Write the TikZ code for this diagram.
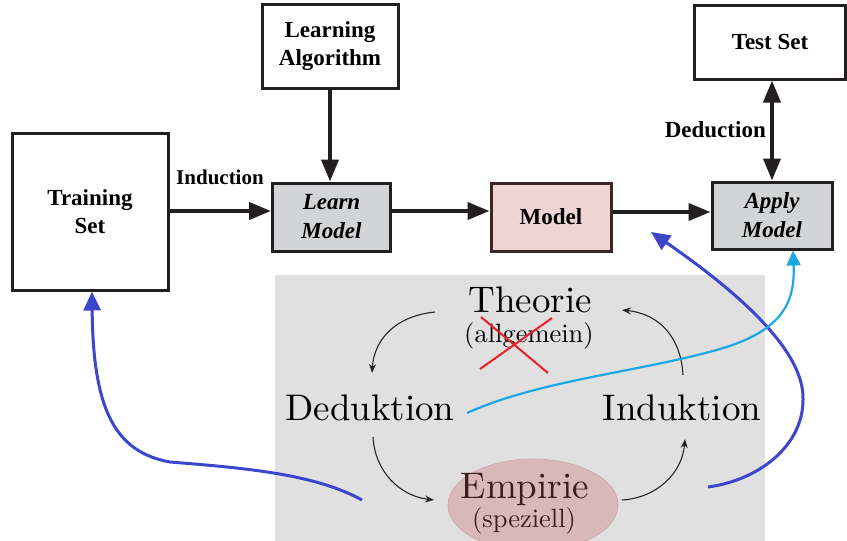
\documentclass[tikz,border=0pt]{standalone}
\usepackage{fontspec}
\newfontfamily\timesfont{LiberationSerif}[Extension=.ttf,
  UprightFont=*-Regular, BoldFont=*-Bold,
  ItalicFont=*-Italic, BoldItalicFont=*-BoldItalic]
\newfontfamily\panelfont{lmroman10-regular}[Extension=.otf]
\usetikzlibrary{arrows.meta,shapes.geometric}

\definecolor{boxline}{HTML}{231F20}
\definecolor{learnfill}{HTML}{D3D4D6}
\definecolor{modelfill}{HTML}{EFD4D4}
\definecolor{modelline}{HTML}{3A2828}
\definecolor{panelgray}{HTML}{E0E0E0}
\definecolor{empfill}{HTML}{D8B8B8}
\definecolor{empline}{HTML}{CCA8A8}
\definecolor{emptext}{HTML}{3A1E1E}
\definecolor{linkblue}{HTML}{3C46CC}
\definecolor{linkcyan}{HTML}{1CA8E4}
\definecolor{crossred}{HTML}{E8202A}

\tikzset{
  blockbox/.style={draw=boxline, line width=3pt, fill=white, inner sep=0pt,
    align=center, font=\timesfont\bfseries\fontsize{23}{28}\selectfont},
  grayblock/.style={blockbox, fill=learnfill,
    font=\timesfont\bfseries\itshape\fontsize{23}{29}\selectfont},
  flow/.style={line width=4pt, draw=boxline,
    -{Triangle[length=22pt,width=17pt]}},
  steplabel/.style={font=\timesfont\bfseries\fontsize{21}{25}\selectfont, inner sep=0pt},
  cyclearrow/.style={line width=1.1pt, draw=black!85,
    -{Stealth[length=9pt,width=7pt]}},
  bigword/.style={font=\panelfont\fontsize{37}{40}\selectfont, inner sep=0pt, anchor=base},
  smallword/.style={font=\panelfont\fontsize{26.5}{30}\selectfont, inner sep=0pt, anchor=base},
  bluelink/.style={line width=3pt, draw=linkblue,
    -{Triangle[length=19pt,width=17pt]}},
  cyanlink/.style={line width=2.2pt, draw=linkcyan,
    -{Triangle[length=15pt,width=14pt]}},
}

\begin{document}
\begin{tikzpicture}[x=1pt,y=-1pt]
\useasboundingbox (0,0) rectangle (847,541);

% ---- upper block diagram ----
\node[blockbox, minimum width=156pt, minimum height=157pt] (train) at (90,211.5) {Training\\Set};
\node[blockbox, minimum width=136pt, minimum height=84pt] (algo) at (330,46.5) {Learning\\Algorithm};
\node[grayblock, minimum width=118pt, minimum height=68pt] (learn) at (331.5,217) {Learn\\Model};
\node[blockbox, fill=modelfill, draw=modelline, minimum width=120pt, minimum height=68pt] (model) at (551,217) {Model};
\node[grayblock, minimum width=120pt, minimum height=67pt] (apply) at (772,215.5) {Apply\\Model};
\node[blockbox, minimum width=151pt, minimum height=74pt] (test) at (770,42) {Test Set};

\draw[flow] (train.east |- 0,211) -- (learn.west |- 0,211);
\draw[flow] (algo.south) -- (learn.north -| algo.south);
\draw[flow] (learn.east |- 0,211) -- (model.west |- 0,211);
\draw[flow] (model.east |- 0,212) -- (apply.west |- 0,212);
\draw[flow, {Triangle[length=22pt,width=17pt]}-{Triangle[length=22pt,width=17pt]}]
  (test.south -| apply.north) -- (apply.north);

\node[steplabel] (indlabel) at (220,177) {Induction};
\node[steplabel, anchor=east, font=\timesfont\bfseries\fontsize{23}{25}\selectfont] (dedlabel) at (766,130) {Deduction};

% ---- lower panel: the cycle of theory and experience ----
\fill[panelgray] (275,275) rectangle (765,541);

\node[ellipse, fill=empfill, draw=empline, line width=0.6pt,
  minimum width=170pt, minimum height=92pt] (empell) at (533,505) {};
\node[bigword] (theo) at (530,312) {Theorie};
\node[smallword] (allg) at (529,342) {(allgemein)};
\node[bigword] (ded) at (370,420) {Deduktion};
\node[bigword] (ind) at (682,420) {Induktion};
\node[bigword, text=emptext] (emp) at (525,498) {Empirie};
\node[smallword, text=emptext] (spez) at (524,527) {(speziell)};

% red cross over "allgemein"
\draw[crossred, line width=2pt] (481,317) -- (548,373);
\draw[crossred, line width=2pt] (552,318) -- (480,369);

% cycle arrows
\coordinate (c1a) at (435,312);
\coordinate (c1b) at (372,373);
\coordinate (c2a) at (373,437);
\coordinate (c2b) at (434,500);
\coordinate (c3a) at (622,500);
\coordinate (c3b) at (685,439);
\coordinate (c4a) at (683,375);
\coordinate (c4b) at (622,310);
\draw[cyclearrow] (c1a) .. controls (395,316) and (374,340) .. (c1b);
\draw[cyclearrow] (c2a) .. controls (375,472) and (400,496) .. (c2b);
\draw[cyclearrow] (c3a) .. controls (656,498) and (682,474) .. (c3b);
\draw[cyclearrow] (c4a) .. controls (681,338) and (660,314) .. (c4b);

% ---- links between the two halves ----
\coordinate (bl0) at (362,500);
\coordinate (bl1) at (170,462);
\coordinate (br0) at (708,487);
\coordinate (br1) at (803,400);
\coordinate (cy0) at (467,413);
\coordinate (cy1) at (720,349);

\draw[bluelink] (bl0) .. controls (315,474) and (245,468) .. (bl1)
  .. controls (115,452) and (93,410) .. (train.south -| 92,0);
\draw[bluelink] (br0) .. controls (760,480) and (803,445) .. (br1)
  .. controls (805,350) and (735,290) .. (651,232);
\draw[cyanlink] (cy0) .. controls (540,380) and (640,372) .. (cy1)
  .. controls (785,330) and (795,300) .. (apply.south -| 793,0);
\end{tikzpicture}
\end{document}
